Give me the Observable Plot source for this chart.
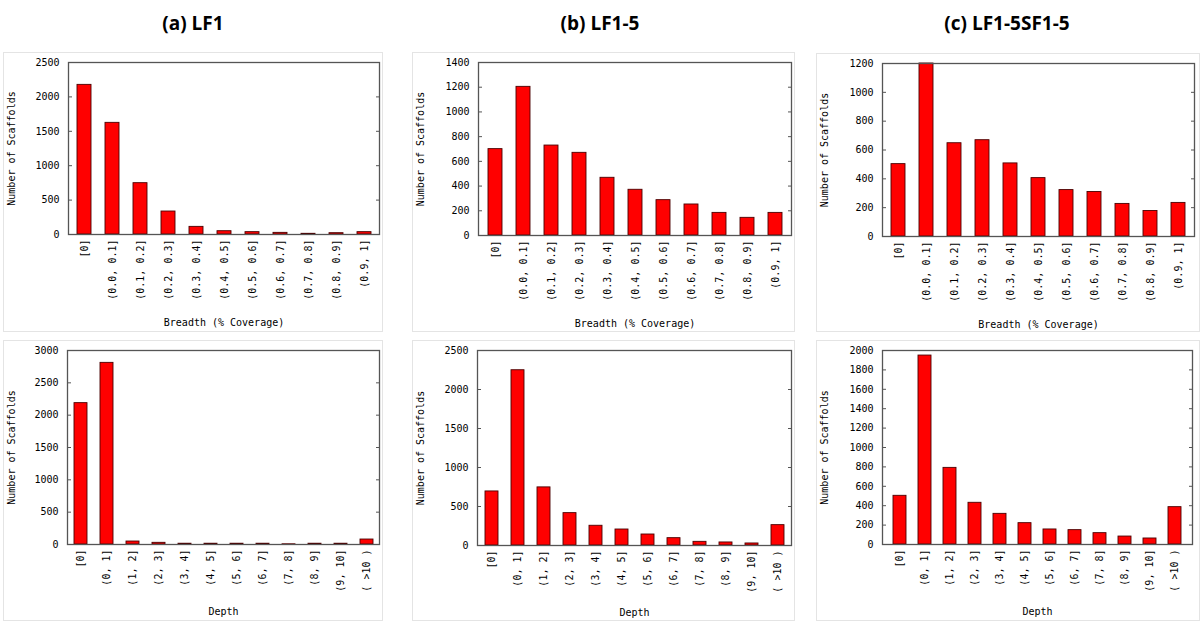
<!DOCTYPE html>
<html><head><meta charset="utf-8">
<script src="https://cdn.jsdelivr.net/npm/d3@7"></script>
<script src="https://cdn.jsdelivr.net/npm/@observablehq/plot@0.6"></script>
<style>
body{margin:0;background:#fff;width:1200px;height:621px;position:relative;overflow:hidden;}
.title{position:absolute;top:8px;font-family:"Open Sans",sans-serif;font-weight:700;font-size:19px;transform:translateX(-50%);white-space:nowrap;color:#000;line-height:30px;}
.panel{position:absolute;outline:1px solid #e4e4e4;outline-offset:-1px;}
.panel svg{display:block;}
</style></head><body>
<div class="title" style="left:193px">(a) LF1</div>
<div class="title" style="left:600px">(b) LF1-5</div>
<div class="title" style="left:1007px">(c) LF1-5SF1-5</div>
<div id="root"></div>
<script>
const breadthCats = ["[0]", "(0.0, 0.1]", "(0.1, 0.2]", "(0.2, 0.3]", "(0.3, 0.4]", "(0.4, 0.5]", "(0.5, 0.6]", "(0.6, 0.7]", "(0.7, 0.8]", "(0.8, 0.9]", "(0.9, 1]"];
const depthCats = ["[0]", "(0, 1]", "(1, 2]", "(2, 3]", "(3, 4]", "(4, 5]", "(5, 6]", "(6, 7]", "(7, 8]", "(8, 9]", "(9, 10]", "( >10 )"];

const lf1Breadth = [2175, 1623, 746, 334, 111, 48, 34, 24, 10, 19, 34];
const lf15Breadth = [699, 1203, 728, 669, 467, 370, 286, 251, 183, 143, 183];
const lf15sf15Breadth = [502, 1200, 647, 668, 507, 405, 322, 309, 226, 177, 233];

const lf1Depth = [2186, 2809, 46, 26, 12, 12, 12, 12, 3, 12, 12, 77];
const lf15Depth = [693, 2247, 745, 415, 253, 205, 141, 94, 47, 39, 26, 261];
const lf15sf15Depth = [502, 1948, 790, 430, 316, 220, 155, 148, 117, 82, 62, 385];

const ticksA1 = [0, 500, 1000, 1500, 2000, 2500];
const ticksB1 = [0, 200, 400, 600, 800, 1000, 1200, 1400];
const ticksC1 = [0, 200, 400, 600, 800, 1000, 1200];
const ticksA2 = [0, 500, 1000, 1500, 2000, 2500, 3000];
const ticksB2 = [0, 500, 1000, 1500, 2000, 2500];
const ticksC2 = [0, 200, 400, 600, 800, 1000, 1200, 1400, 1600, 1800, 2000];

const yLabel = "Number of Scaffolds";
const breadthLabel = "Breadth (% Coverage)";
const depthLabel = "Depth";

function panel(p) {
  const data = p.cats.map((c, i) => ({cat: c, value: p.values[i]}));
  const m = p.m;
  const svg = Plot.plot({
    width: p.width, height: p.height,
    marginLeft: m.left, marginRight: m.right, marginTop: m.top, marginBottom: m.bottom,
    style: {fontFamily: "'DejaVu Sans Mono', monospace", fontSize: "10px", color: "#000", background: "transparent", overflow: "visible"},
    x: {domain: p.cats, paddingInner: 0.5, paddingOuter: 0.25},
    y: {domain: [0, p.ticks[p.ticks.length - 1]]},
    marks: [
      Plot.barY(data, {x: "cat", y: "value", fill: "#ff0000", stroke: "#4a0000", strokeWidth: 0.9}),
      Plot.frame({stroke: "#555", strokeWidth: 1.3}),
      Plot.axisY(p.ticks, {anchor: "left", tickSize: -4, tickPadding: 13, stroke: "#555", tickFormat: d => String(d), label: yLabel, labelAnchor: "center", labelArrow: "none", labelOffset: m.left - 4}),
      Plot.axisY(p.ticks, {anchor: "right", tickSize: -4, tickFormat: () => "", stroke: "#555", label: null}),
      Plot.axisX({anchor: "bottom", tickSize: 0, tickPadding: 5, tickRotate: -90, label: p.xLabel, labelAnchor: "center", labelArrow: "none", labelOffset: p.labelOffset})
    ]
  });
  const div = document.createElement("div");
  div.className = "panel";
  div.style.left = p.left + "px";
  div.style.top = p.top + "px";
  div.style.width = p.width + "px";
  div.style.height = p.height + "px";
  div.appendChild(svg);
  document.getElementById("root").appendChild(div);
}

panel({left: 3, top: 52, width: 380, height: 280, cats: breadthCats, values: lf1Breadth, ticks: ticksA1, xLabel: breadthLabel, labelOffset: 91, m: {left: 65, right: 4, top: 10, bottom: 98}});
panel({left: 412, top: 52, width: 383, height: 280, cats: breadthCats, values: lf15Breadth, ticks: ticksB1, xLabel: breadthLabel, labelOffset: 91, m: {left: 66, right: 4, top: 10, bottom: 97}});
panel({left: 816, top: 53, width: 384, height: 279, cats: breadthCats, values: lf15sf15Breadth, ticks: ticksC1, xLabel: breadthLabel, labelOffset: 91, m: {left: 66, right: 6, top: 10, bottom: 96}});
panel({left: 3, top: 340, width: 380, height: 281, cats: depthCats, values: lf1Depth, ticks: ticksA2, xLabel: depthLabel, labelOffset: 70, m: {left: 64, right: 4, top: 10, bottom: 77}});
panel({left: 412, top: 340, width: 383, height: 281, cats: depthCats, values: lf15Depth, ticks: ticksB2, xLabel: depthLabel, labelOffset: 70, m: {left: 65, right: 4, top: 10, bottom: 76}});
panel({left: 816, top: 340, width: 384, height: 281, cats: depthCats, values: lf15sf15Depth, ticks: ticksC2, xLabel: depthLabel, labelOffset: 70, m: {left: 66, right: 8, top: 10, bottom: 77}});
</script>
</body></html>
